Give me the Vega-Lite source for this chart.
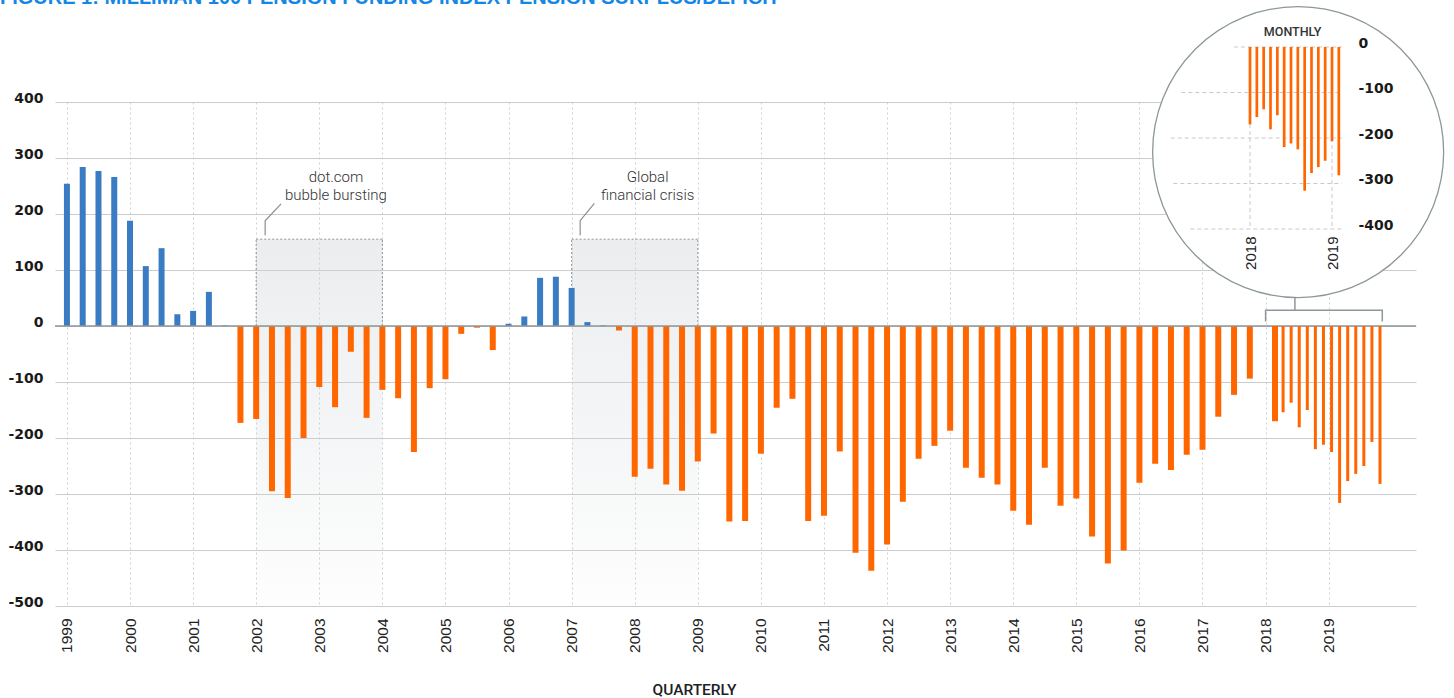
{
 "$schema": "https://vega.github.io/schema/vega-lite/v6.json",
 "width": 1361,
 "height": 504,
 "autosize": "none",
 "padding": {"left": 55, "top": 102, "right": 38, "bottom": 92},
 "background": "white",
 "title": {"text": "FIGURE 1: MILLIMAN 100 PENSION FUNDING INDEX PENSION SURPLUS/DEFICIT", "anchor": "start", "frame": "group", "dx": -55, "dy": 4, "font": "Liberation Sans", "fontSize": 20, "fontWeight": "bold", "color": "#1487e6", "offset": 0},
 "config": {"view": {"stroke": null}},
 "datasets": {
  "quarterly": [
   {"time": 1999.0, "value": 254}, {"time": 1999.25, "value": 284}, {"time": 1999.5, "value": 277}, {"time": 1999.75, "value": 266},
   {"time": 2000.0, "value": 188}, {"time": 2000.25, "value": 107}, {"time": 2000.5, "value": 139}, {"time": 2000.75, "value": 21},
   {"time": 2001.0, "value": 27}, {"time": 2001.25, "value": 61}, {"time": 2001.5, "value": 1}, {"time": 2001.75, "value": -173},
   {"time": 2002.0, "value": -166}, {"time": 2002.25, "value": -295}, {"time": 2002.5, "value": -307}, {"time": 2002.75, "value": -200},
   {"time": 2003.0, "value": -109}, {"time": 2003.25, "value": -145}, {"time": 2003.5, "value": -46}, {"time": 2003.75, "value": -164},
   {"time": 2004.0, "value": -114}, {"time": 2004.25, "value": -129}, {"time": 2004.5, "value": -225}, {"time": 2004.75, "value": -111},
   {"time": 2005.0, "value": -95}, {"time": 2005.25, "value": -14}, {"time": 2005.5, "value": -3}, {"time": 2005.75, "value": -43},
   {"time": 2006.0, "value": 4}, {"time": 2006.25, "value": 17}, {"time": 2006.5, "value": 86}, {"time": 2006.75, "value": 88},
   {"time": 2007.0, "value": 68}, {"time": 2007.25, "value": 7}, {"time": 2007.5, "value": 1}, {"time": 2007.75, "value": -8},
   {"time": 2008.0, "value": -269}, {"time": 2008.25, "value": -255}, {"time": 2008.5, "value": -283}, {"time": 2008.75, "value": -294},
   {"time": 2009.0, "value": -242}, {"time": 2009.25, "value": -192}, {"time": 2009.5, "value": -349}, {"time": 2009.75, "value": -348},
   {"time": 2010.0, "value": -228}, {"time": 2010.25, "value": -146}, {"time": 2010.5, "value": -130}, {"time": 2010.75, "value": -348},
   {"time": 2011.0, "value": -339}, {"time": 2011.25, "value": -224}, {"time": 2011.5, "value": -405}, {"time": 2011.75, "value": -437},
   {"time": 2012.0, "value": -390}, {"time": 2012.25, "value": -314}, {"time": 2012.5, "value": -237}, {"time": 2012.75, "value": -214},
   {"time": 2013.0, "value": -187}, {"time": 2013.25, "value": -253}, {"time": 2013.5, "value": -271}, {"time": 2013.75, "value": -283},
   {"time": 2014.0, "value": -330}, {"time": 2014.25, "value": -355}, {"time": 2014.5, "value": -253}, {"time": 2014.75, "value": -321},
   {"time": 2015.0, "value": -308}, {"time": 2015.25, "value": -376}, {"time": 2015.5, "value": -424}, {"time": 2015.75, "value": -401},
   {"time": 2016.0, "value": -280}, {"time": 2016.25, "value": -246}, {"time": 2016.5, "value": -257}, {"time": 2016.75, "value": -230},
   {"time": 2017.0, "value": -221}, {"time": 2017.25, "value": -162}, {"time": 2017.5, "value": -123}, {"time": 2017.75, "value": -94}
  ],
  "monthly": [
   {"time": 2018.0, "value": -170}, {"time": 2018.083333, "value": -154}, {"time": 2018.166667, "value": -137}, {"time": 2018.25, "value": -181},
   {"time": 2018.333333, "value": -150}, {"time": 2018.416667, "value": -220}, {"time": 2018.5, "value": -212}, {"time": 2018.583333, "value": -225},
   {"time": 2018.666667, "value": -316}, {"time": 2018.75, "value": -277}, {"time": 2018.833333, "value": -264}, {"time": 2018.916667, "value": -250},
   {"time": 2019.0, "value": -207}, {"time": 2019.083333, "value": -282}
  ],
  "events": [
   {"event": "dot.com bubble bursting", "start": 2002, "end": 2004, "top": 155, "base": 0, "floor": -500},
   {"event": "Global financial crisis", "start": 2007, "end": 2009, "top": 155, "base": 0, "floor": -500}
  ],
  "notes": [
   {"label": "dot.com\nbubble bursting", "x": 2003.264, "y": 266},
   {"label": "Global\nfinancial crisis", "x": 2008.205, "y": 266}
  ],
  "leaders": [
   {"event": "dot.com", "step": 1, "x": 2002.394, "y": 218},
   {"event": "dot.com", "step": 2, "x": 2002.142, "y": 188},
   {"event": "dot.com", "step": 3, "x": 2002.142, "y": 162},
   {"event": "gfc", "step": 1, "x": 2007.36, "y": 219},
   {"event": "gfc", "step": 2, "x": 2007.135, "y": 188},
   {"event": "gfc", "step": 3, "x": 2007.135, "y": 162}
  ],
  "bracket": [
   {"part": "bracket", "step": 1, "x": 2018.0, "y": 8},
   {"part": "bracket", "step": 2, "x": 2018.0, "y": 28},
   {"part": "bracket", "step": 3, "x": 2019.85, "y": 28},
   {"part": "bracket", "step": 4, "x": 2019.85, "y": 8},
   {"part": "stem", "step": 1, "x": 2018.465, "y": 28},
   {"part": "stem", "step": 2, "x": 2018.465, "y": 50}
  ],
  "insetTicks": [
   {"v": 0, "from": 2017.804, "to": 2019.12}, {"v": -100, "from": 2017.163, "to": 2019.12}, {"v": -200, "from": 2017.033, "to": 2019.12},
   {"v": -300, "from": 2017.065, "to": 2019.12}, {"v": -400, "from": 2017.272, "to": 2019.12}
  ],
  "insetYears": [{"t": 2018, "top": 0, "bottom": -400}, {"t": 2019, "top": 0, "bottom": -400}]
 },
 "resolve": {"scale": {"x": "independent", "y": "independent"}, "axis": {"x": "independent", "y": "independent"}},
 "layer": [
  {
   "layer": [
    {
     "data": {"name": "quarterly"},
     "mark": {"type": "bar", "size": 6, "orient": "vertical", "opacity": 0},
     "encoding": {
      "x": {"field": "time", "type": "quantitative", "scale": {"domain": [1998.89, 2020.305], "nice": false, "zero": false},
       "axis": {"values": [1999, 2000, 2001, 2002, 2003, 2004, 2005, 2006, 2007, 2008, 2009, 2010, 2011, 2012, 2013, 2014, 2015, 2016, 2017, 2018, 2019],
        "format": "d", "labelAngle": -90, "domain": false, "ticks": false, "grid": true, "gridDash": [2, 3], "gridColor": "#d0d0d0", "gridWidth": 1,
        "labelPadding": 12, "labelFont": "Liberation Sans", "labelFontSize": 15.5, "labelColor": "#222222", "labelOverlap": false, "labelFlush": false, "labelBound": false,
        "title": "QUARTERLY", "titleFont": "Roboto", "titleFontSize": 15.5, "titleFontWeight": 500, "titleColor": "#222222", "titleX": 639, "titleY": 83, "titleBaseline": "middle"}},
      "y": {"field": "value", "type": "quantitative", "scale": {"domain": [-500, 400], "nice": false, "zero": false},
       "axis": {"values": [-500, -400, -300, -200, -100, 0, 100, 200, 300, 400], "domain": false, "ticks": false, "grid": true, "gridColor": "#cccccc", "gridWidth": 1,
        "labelPadding": 12, "labelBaseline": "alphabetic", "labelFont": "DejaVu Sans", "labelFontSize": 14, "labelFontWeight": "bold", "labelColor": "#1a1a1a", "labelOverlap": false, "labelFlush": false, "labelBound": false,
        "labelExpr": "datum.value < 0 ? '-' + abs(datum.value) : '' + datum.value", "title": null}}
     }
    },
    {
     "data": {"name": "events"},
     "mark": {"type": "rect", "color": {"gradient": "linear", "x1": 0, "y1": 0, "x2": 0, "y2": 1, "stops": [{"offset": 0, "color": "rgba(205,210,214,0.4)"}, {"offset": 1, "color": "rgba(205,210,214,0.03)"}]}},
     "encoding": {
      "x": {"field": "start", "type": "quantitative"},
      "x2": {"field": "end"},
      "y": {"field": "top", "type": "quantitative"},
      "y2": {"field": "floor"}
     }
    },
    {
     "data": {"name": "events"},
     "mark": {"type": "rule", "color": "#8f979b", "strokeDash": [2, 2], "strokeWidth": 1},
     "encoding": {
      "x": {"field": "start", "type": "quantitative"},
      "x2": {"field": "end"},
      "y": {"field": "top", "type": "quantitative"}
     }
    },
    {
     "data": {"name": "events"},
     "mark": {"type": "rule", "color": "#8f979b", "strokeDash": [2, 2], "strokeWidth": 1},
     "encoding": {
      "x": {"field": "start", "type": "quantitative"},
      "y": {"field": "base", "type": "quantitative"},
      "y2": {"field": "top"}
     }
    },
    {
     "data": {"name": "events"},
     "mark": {"type": "rule", "color": "#8f979b", "strokeDash": [2, 2], "strokeWidth": 1},
     "encoding": {
      "x": {"field": "end", "type": "quantitative"},
      "y": {"field": "base", "type": "quantitative"},
      "y2": {"field": "top"}
     }
    },
    {
     "data": {"name": "quarterly"},
     "mark": {"type": "bar", "size": 6, "orient": "vertical"},
     "encoding": {
      "x": {"field": "time", "type": "quantitative"},
      "y": {"field": "value", "type": "quantitative"},
      "color": {"condition": {"test": "datum.value < 0", "value": "#ff6600"}, "value": "#3a7cc3"}
     }
    },
    {
     "data": {"values": [{"zero": 0}]},
     "mark": {"type": "rule", "color": "#8d979b", "strokeWidth": 1.5},
     "encoding": {
      "y": {"field": "zero", "type": "quantitative"}
     }
    },
    {
     "data": {"name": "leaders"},
     "mark": {"type": "line", "color": "#8a8f92", "strokeWidth": 1.2},
     "encoding": {
      "x": {"field": "x", "type": "quantitative"},
      "y": {"field": "y", "type": "quantitative"},
      "detail": {"field": "event", "type": "nominal"},
      "order": {"field": "step", "type": "quantitative"}
     }
    },
    {
     "data": {"name": "notes"},
     "mark": {"type": "text", "lineBreak": "\n", "font": "Roboto", "fontSize": 15, "fontWeight": 300, "color": "#333333", "align": "center", "baseline": "middle", "lineHeight": 18},
     "encoding": {
      "x": {"field": "x", "type": "quantitative"},
      "y": {"field": "y", "type": "quantitative"},
      "text": {"field": "label", "type": "nominal"}
     }
    },
    {
     "data": {"name": "bracket"},
     "mark": {"type": "line", "color": "#8d979b", "strokeWidth": 1.5},
     "encoding": {
      "x": {"field": "x", "type": "quantitative"},
      "y": {"field": "y", "type": "quantitative"},
      "detail": {"field": "part", "type": "nominal"},
      "order": {"field": "step", "type": "quantitative"}
     }
    }
   ]
  },
  {
   "data": {"name": "monthly"},
   "layer": [
    {
     "transform": [{"filter": "datum.time == 2018"}],
     "mark": {"type": "bar", "size": 6, "orient": "vertical", "color": "#ff6600"},
     "encoding": {
      "x": {"field": "time", "type": "quantitative", "scale": {"domain": [2018, 2019.083333], "range": [1215, 1330], "nice": false, "zero": false}, "axis": null},
      "y": {"field": "value", "type": "quantitative", "scale": {"domain": [-500, 400], "nice": false, "zero": false}, "axis": null}
     }
    },
    {
     "transform": [{"filter": "datum.time > 2018"}],
     "mark": {"type": "bar", "size": 3, "orient": "vertical", "color": "#ff6600"},
     "encoding": {
      "x": {"field": "time", "type": "quantitative", "scale": {"domain": [2018, 2019.083333], "range": [1215, 1330], "nice": false, "zero": false}, "axis": null},
      "y": {"field": "value", "type": "quantitative", "scale": {"domain": [-500, 400], "nice": false, "zero": false}, "axis": null}
     }
    }
   ]
  },
  {
   "layer": [
    {
     "data": {"values": [{"cx": 2018.587, "cy": -231}]},
     "mark": {"type": "point", "shape": "circle", "size": 84700, "filled": true, "fill": "white", "stroke": "#8d979b", "strokeWidth": 1.3, "opacity": 1},
     "encoding": {
      "x": {"field": "cx", "type": "quantitative", "scale": {"domain": [2018, 2019], "range": [1190, 1282], "nice": false, "zero": false},
       "axis": {"orient": "bottom", "offset": -377, "zindex": 1, "values": [2018, 2019], "format": "d", "labelAngle": -90, "domain": false, "ticks": false, "grid": false,
        "labelPadding": 7, "labelFont": "Liberation Sans", "labelFontSize": 15, "labelColor": "#222222", "labelOverlap": false, "labelFlush": false, "labelBound": false, "title": null}},
      "y": {"field": "cy", "type": "quantitative", "scale": {"domain": [-400, 0], "range": [127, -55], "nice": false, "zero": false},
       "axis": {"orient": "right", "offset": -66, "zindex": 1, "values": [0, -100, -200, -300, -400], "domain": false, "ticks": false, "grid": false,
        "labelPadding": 8, "labelBaseline": "alphabetic", "labelFont": "DejaVu Sans", "labelFontSize": 14, "labelFontWeight": "bold", "labelColor": "#1a1a1a", "labelOverlap": false, "labelFlush": false, "labelBound": false,
        "labelExpr": "datum.value < 0 ? '-' + abs(datum.value) : '' + datum.value", "title": null}}
     }
    },
    {
     "data": {"name": "insetTicks"},
     "mark": {"type": "rule", "color": "#c9c9c9", "strokeDash": [4, 3], "strokeWidth": 1},
     "encoding": {
      "x": {"field": "from", "type": "quantitative"},
      "x2": {"field": "to"},
      "y": {"field": "v", "type": "quantitative"}
     }
    },
    {
     "data": {"name": "insetYears"},
     "mark": {"type": "rule", "color": "#c9c9c9", "strokeDash": [4, 3], "strokeWidth": 1},
     "encoding": {
      "x": {"field": "t", "type": "quantitative"},
      "y": {"field": "top", "type": "quantitative"},
      "y2": {"field": "bottom"}
     }
    },
    {
     "data": {"name": "monthly"},
     "mark": {"type": "bar", "size": 2.7, "orient": "vertical", "color": "#ff6600"},
     "encoding": {
      "x": {"field": "time", "type": "quantitative"},
      "y": {"field": "value", "type": "quantitative"}
     }
    },
    {
     "data": {"values": [{"label": "MONTHLY", "lx": 2018.52, "ly": 32}]},
     "mark": {"type": "text", "font": "Roboto", "fontSize": 12.5, "fontWeight": 500, "color": "#333333", "align": "center", "baseline": "middle"},
     "encoding": {
      "x": {"field": "lx", "type": "quantitative"},
      "y": {"field": "ly", "type": "quantitative"},
      "text": {"field": "label", "type": "nominal"}
     }
    }
   ]
  }
 ]
}
